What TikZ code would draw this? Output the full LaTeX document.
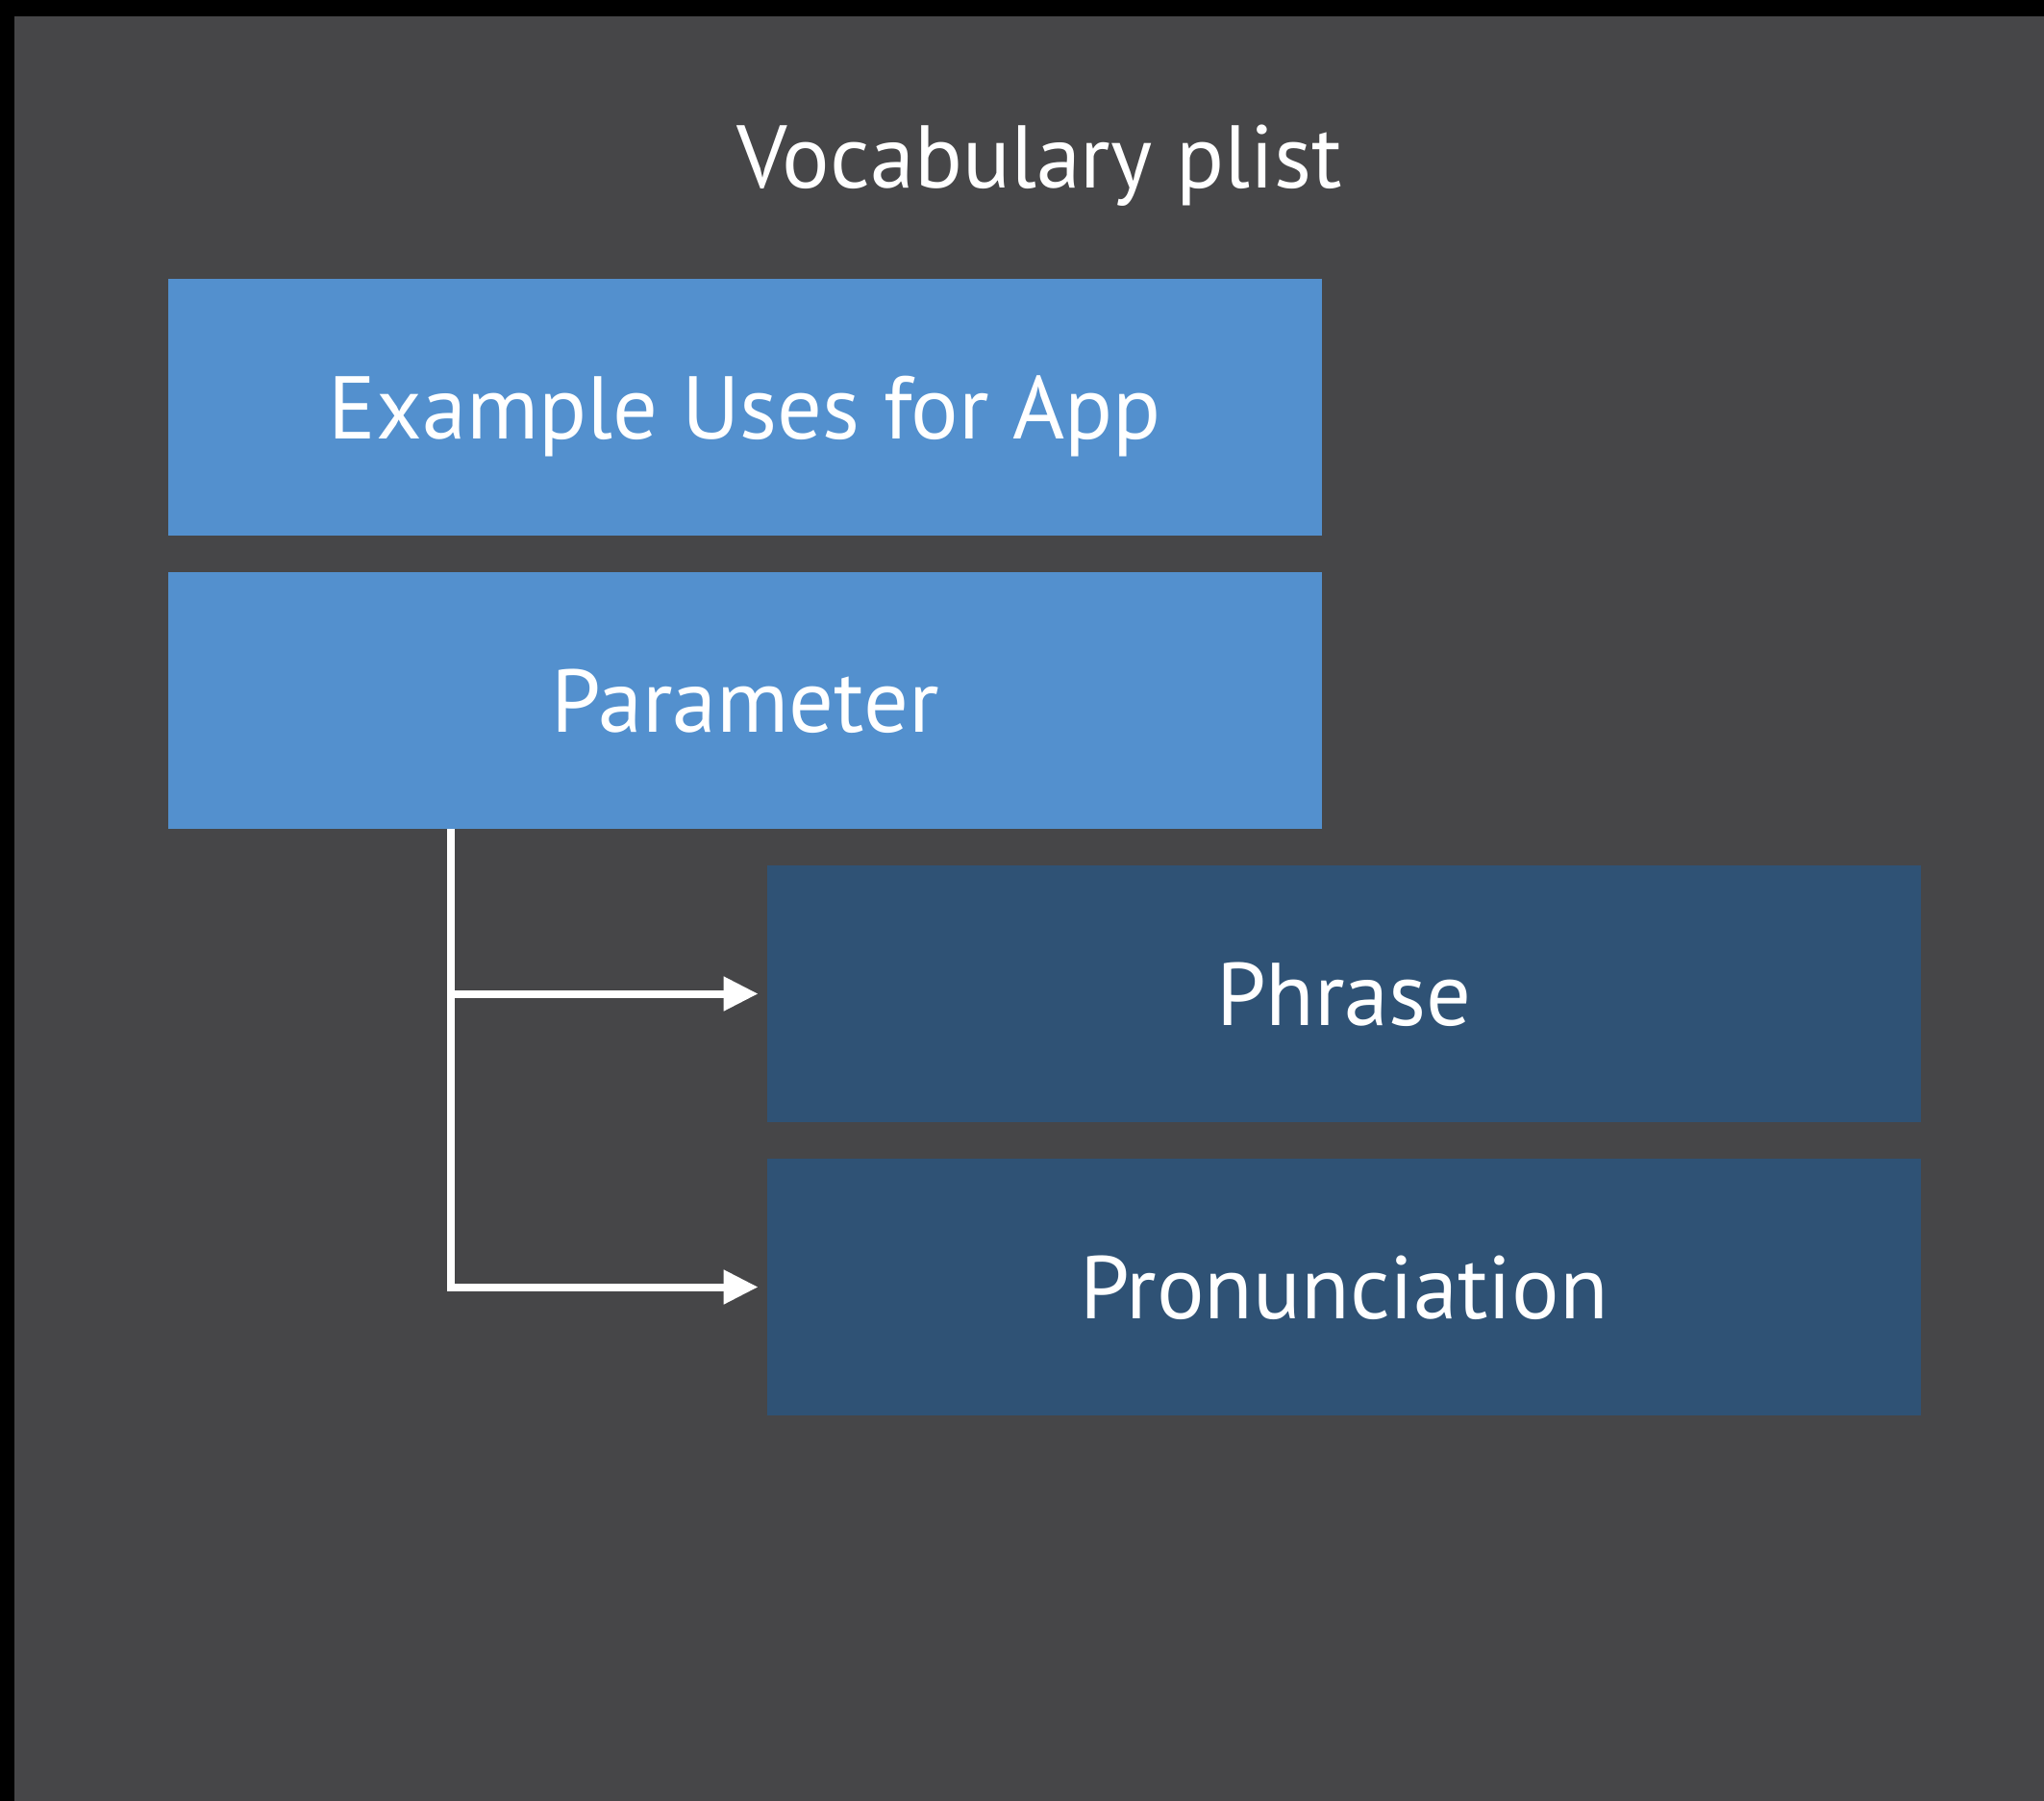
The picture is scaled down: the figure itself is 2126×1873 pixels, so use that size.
\documentclass[tikz,border=0pt]{standalone}
\usepackage{fontspec}
\setmainfont{PT Sans}
\usetikzlibrary{arrows.meta}
\definecolor{bgc}{HTML}{464648}
\definecolor{lightbox}{HTML}{5390CE}
\definecolor{darkbox}{HTML}{2F5275}
\tikzset{
  boxbase/.style={inner sep=0pt, minimum width=600pt, minimum height=133.5pt,
    text=white, font=\fontsize{46.3}{56}\selectfont, text height=32.5pt, text depth=0pt},
  lightstep/.style={boxbase, fill=lightbox},
  darkstep/.style={boxbase, fill=darkbox},
  conn/.style={draw=white, line width=4pt, line join=miter,
    -{Triangle[length=18pt,width=17pt]}, shorten >=4.5pt},
}
\begin{document}
\begin{tikzpicture}[x=0.5pt,y=-0.5pt]
\useasboundingbox (0,0) rectangle (2126,1873);
\fill[black] (0,0) rectangle (2126,1873);
\fill[bgc] (15,17) rectangle (2126,1873);
\node[anchor=base, text=white, font=\fontsize{46.3}{56}\selectfont, inner sep=0pt] (title) at (1081,195) {Vocabulary plist};
\node[lightstep] (uses) at (775,423.5) {Example Uses for App};
\node[lightstep] (param) at (775,728.5) {Parameter};
\node[darkstep] (phrase) at (1398,1033.5) {Phrase};
\node[darkstep] (pron) at (1398,1338.5) {Pronunciation};
\coordinate (trunk) at (469,862);
\draw[conn] (trunk) |- (phrase.west);
\draw[conn] (trunk) |- (pron.west);
\end{tikzpicture}
\end{document}
